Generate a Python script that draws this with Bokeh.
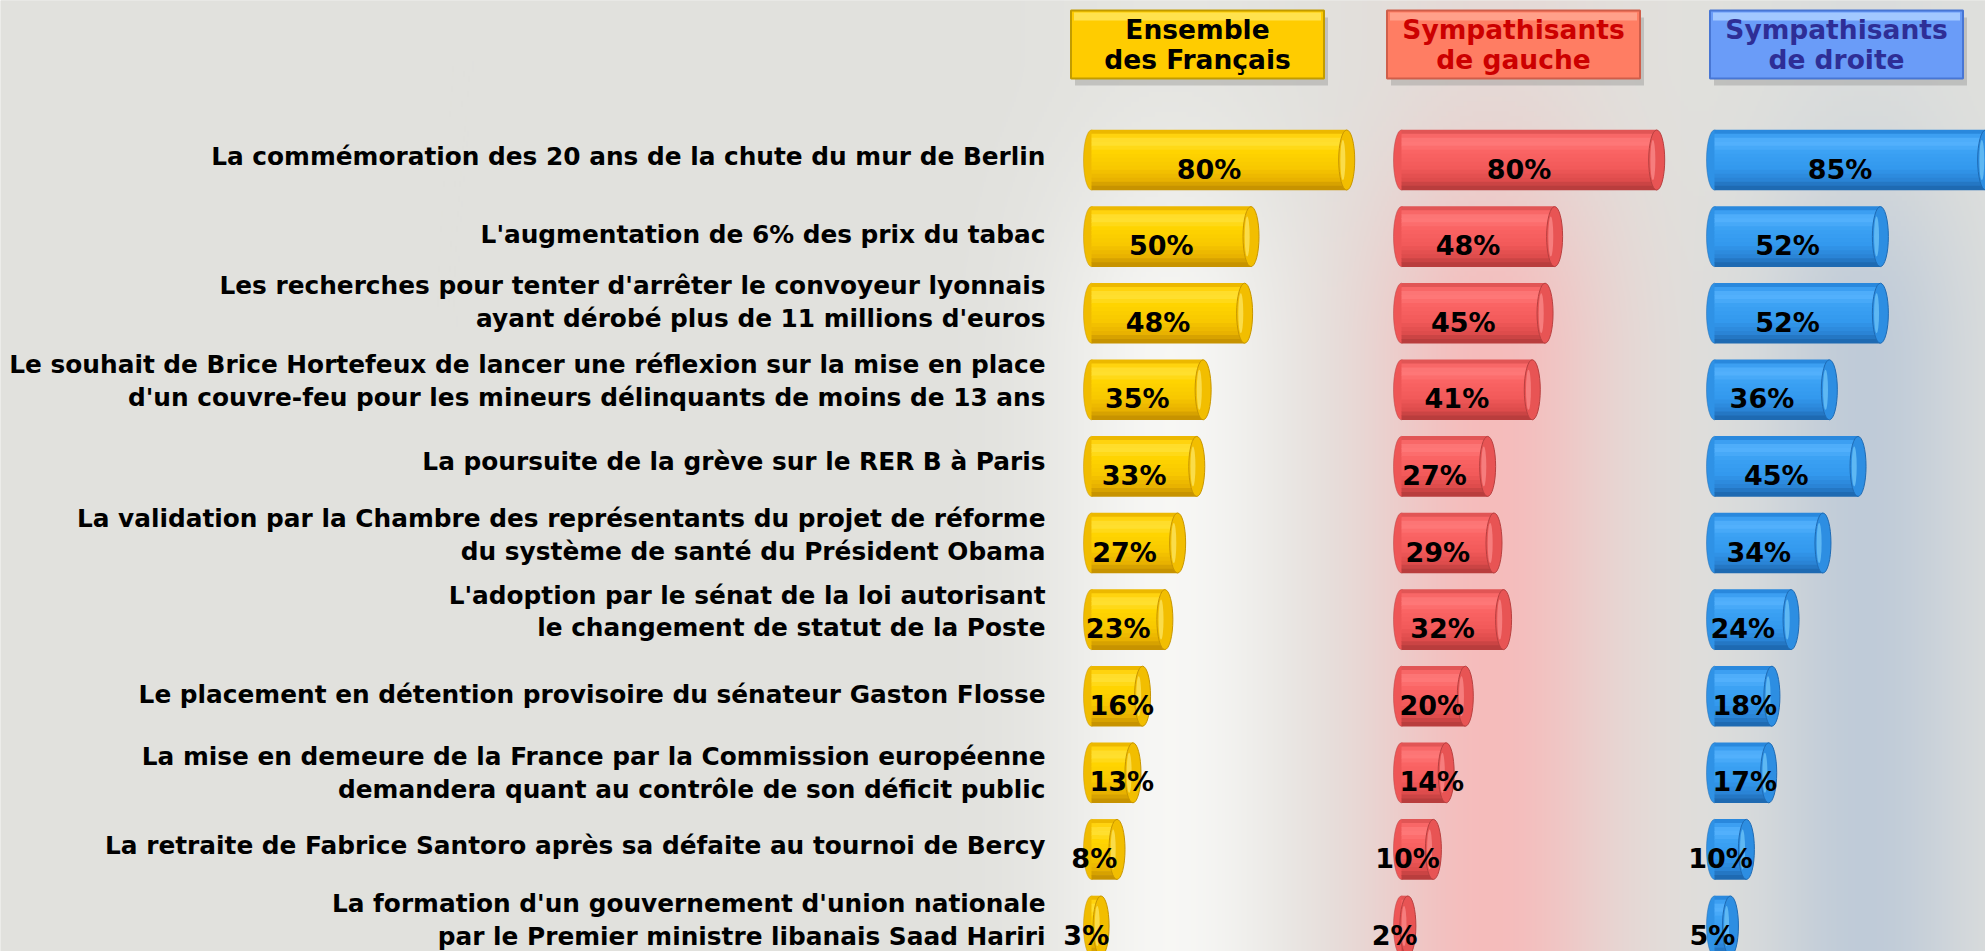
import numpy as np
from bokeh.plotting import figure
from bokeh.models import Range1d
from bokeh.core.properties import value
from bokeh.embed import file_html
from bokeh.resources import INLINE

# ---------------- data ----------------
categories = [
    "La commémoration des 20 ans de la chute du mur de Berlin",
    "L'augmentation de 6% des prix du tabac",
    "Les recherches pour tenter d'arrêter le convoyeur lyonnais\nayant dérobé plus de 11 millions d'euros",
    "Le souhait de Brice Hortefeux de lancer une réflexion sur la mise en place\nd'un couvre-feu pour les mineurs délinquants de moins de 13 ans",
    "La poursuite de la grève sur le RER B à Paris",
    "La validation par la Chambre des représentants du projet de réforme\ndu système de santé du Président Obama",
    "L'adoption par le sénat de la loi autorisant\nle changement de statut de la Poste",
    "Le placement en détention provisoire du sénateur Gaston Flosse",
    "La mise en demeure de la France par la Commission européenne\ndemandera quant au contrôle de son déficit public",
    "La retraite de Fabrice Santoro après sa défaite au tournoi de Bercy",
    "La formation d'un gouvernement d'union nationale\npar le Premier ministre libanais Saad Hariri",
]
ensemble = [80, 50, 48, 35, 33, 27, 23, 16, 13, 8, 3]
gauche = [80, 48, 45, 41, 27, 29, 32, 20, 14, 10, 2]
droite = [85, 52, 52, 36, 45, 34, 24, 18, 17, 10, 5]
series_names = ["Ensemble\ndes Français", "Sympathisants\nde gauche", "Sympathisants\nde droite"]

# ---------------- layout / style ----------------
W, H = 1985, 951
ROW0 = 159.5      # px from top to first row centre
ROWH = 76.6       # px per row
PXPCT = 3.19      # px per percent
BAR_H = 60.0      # bar thickness px
col_zero = [1091, 1401, 1714]          # px where each column's zero lies
hdr_center = [1197, 1513, 1836]        # px centre of header boxes
HDR_Y = 44                             # px centre of header boxes
LABEL_RIGHT = 1045
label_dy = [-4, -2, -11, -9, -5, -8, -8, -2, 0, -4, -6]   # px nudges of the category labels
FONT = "DejaVu Sans"

n = len(categories)
rows = list(range(n))
y_top = -ROW0 / ROWH
y_bot = (H - ROW0) / ROWH

p = figure(width=W, height=H, x_range=Range1d(0, W), y_range=Range1d(y_bot, y_top),
           output_backend="svg", toolbar_location=None, min_border=0,
           x_axis_location=None, y_axis_location=None)
p.grid.visible = False
p.outline_line_color = None
p.background_fill_color = "#e1e1dd"
p.border_fill_color = "#e1e1dd"
p.extra_y_ranges = {"px": Range1d(0, H)}
p.extra_x_ranges = {f"c{k}": Range1d(-col_zero[k] / PXPCT, (W - col_zero[k]) / PXPCT) for k in range(3)}

# ---------------- background glows ----------------
step = 5
nrow = int(np.ceil(H / step))
xs = np.arange(W, dtype=float)
ys = np.arange(nrow, dtype=float) * step + step / 2
base = np.array([225, 225, 221], dtype=float)
glows = [
    (1170, 85, (251, 251, 249), 0.85),
    (1490, 85, (248, 184, 184), 0.9),
    (1865, 75, (188, 201, 216), 0.9),
]
vf = np.clip((ys - 60) / 300.0, 0, 1)
vf = 0.2 + 0.8 * (vf * vf * (3 - 2 * vf))
img_rgb = np.tile(base, (nrow, W, 1))
for cx, sg, colr, st in glows:
    g = st * np.exp(-0.5 * ((xs - cx) / sg) ** 2)
    a = vf[:, None] * g[None, :]
    img_rgb = img_rgb * (1 - a[..., None]) + np.array(colr, dtype=float)[None, None, :] * a[..., None]
img = np.empty((nrow, W), dtype=np.uint32)
view = img.view(dtype=np.uint8).reshape((nrow, W, 4))
view[..., 0:3] = np.clip(img_rgb, 0, 255).astype(np.uint8)
view[..., 3] = 255
p.image_rgba(image=[img[::-1]], x=0, y=0, dw=W, dh=nrow * step, y_range_name="px")


def hx(c):
    c = c.lstrip("#")
    return np.array([int(c[i:i + 2], 16) for i in (0, 2, 4)], dtype=float)


def tohex(a):
    a = np.clip(a, 0, 255).astype(int)
    return "#%02x%02x%02x" % tuple(a)


def bands(keys, nb=15):
    out = []
    pos = np.array([k[0] for k in keys], dtype=float)
    cols = np.array([hx(k[1]) for k in keys])
    bh = BAR_H / nb
    for i in range(nb):
        c = -BAR_H / 2 + (i + 0.5) * bh
        rgb = [np.interp(c, pos, cols[:, j]) for j in range(3)]
        out.append((c / ROWH, (bh + 0.6) / ROWH, tohex(np.array(rgb))))
    return out


styles = [
    dict(keys=[(-30, "#d9a200"), (-26, "#ffcf00"), (-18, "#ffe23a"), (-8, "#ffd400"),
               (8, "#f8c800"), (20, "#e8b200"), (30, "#bf8c00")],
         left="#f0bc00", cap="#f2be00", cap_line="#c89600", hl="#fff07a"),
    dict(keys=[(-30, "#cc4a4a"), (-26, "#f66060"), (-18, "#ff7c7c"), (-8, "#fa6464"),
               (8, "#f25a5a"), (20, "#de4c4c"), (30, "#b03a3a")],
         left="#ee5656", cap="#e85454", cap_line="#b84040", hl="#ff9a9a"),
    dict(keys=[(-30, "#1f78cc"), (-26, "#3399ee"), (-18, "#58b4ff"), (-8, "#3ca2f4"),
               (8, "#3399ee"), (20, "#2a84d6"), (30, "#1c64aa")],
         left="#2f92e6", cap="#2d8ee2", cap_line="#1f6bb4", hl="#7fd4ff"),
]
hdr_styles = [
    dict(fill="#ffcc00", top="#ffe24e", line="#c29c00", text="#000000"),
    dict(fill="#ff7d63", top="#ffa08a", line="#cf5e4a", text="#cc0000"),
    dict(fill="#6a9cf8", top="#a2c8ff", line="#4876d4", text="#2e2e96"),
]

series = [ensemble, gauche, droite]
hdr_y = (HDR_Y - ROW0) / ROWH
val_font = dict(text_font=value(FONT), text_font_style="bold", text_font_size="27px",
                text_color="#000000", text_baseline="middle")

for k in range(3):
    rn = f"c{k}"
    vals = series[k]
    st = styles[k]
    hs = hdr_styles[k]
    hxd = (hdr_center[k] - col_zero[k]) / PXPCT

    # header box
    p.rect(x=[hxd + 4 / PXPCT], y=[hdr_y + 7 / ROWH], width=253, height=68,
           width_units="screen", height_units="screen", fill_color="#9a9a96",
           fill_alpha=0.45, line_color=None, x_range_name=rn)
    p.rect(x=[hxd], y=[hdr_y], width=253, height=68, width_units="screen",
           height_units="screen", fill_color=hs["fill"], line_color=hs["line"],
           line_width=2, x_range_name=rn)
    p.rect(x=[hxd], y=[hdr_y - 28 / ROWH], width=247, height=8, width_units="screen",
           height_units="screen", fill_color=hs["top"], line_color=None, x_range_name=rn)
    p.text(x=[hxd], y=[hdr_y], text=[series_names[k]], text_align="center",
           text_baseline="middle", text_font=value(FONT), text_font_style="bold",
           text_font_size="26.5px", text_line_height=0.98, text_color=hs["text"],
           x_range_name=rn)

    # cylinder bars
    p.ellipse(x=[0] * n, y=rows, width=16, height=BAR_H, width_units="screen",
              height_units="screen", fill_color=st["left"], line_color=st["cap_line"],
              line_alpha=0.5, x_range_name=rn)
    for off, h, c in bands(st["keys"]):
        p.hbar(y=[r + off for r in rows], left=0, right=vals, height=h,
               fill_color=c, line_color=None, x_range_name=rn)
    p.ellipse(x=vals, y=rows, width=16, height=BAR_H, width_units="screen",
              height_units="screen", fill_color=st["cap"], line_color=st["cap_line"],
              line_width=1, x_range_name=rn)
    p.ellipse(x=[v - 1.2 for v in vals], y=rows, width=5, height=40, width_units="screen",
              height_units="screen", fill_color=st["hl"], fill_alpha=0.6,
              line_color=None, x_range_name=rn)

    # value labels: centred on the bar, but left-anchored for short bars (11-22 %)
    short = [i for i, v in enumerate(vals) if 10 < v < 22]
    other = [i for i in rows if i not in short]
    p.text(x=[vals[i] / 2 for i in other], y=[rows[i] for i in other],
           text=[f"{vals[i]}%" for i in other], x_offset=-10, y_offset=9,
           text_align="center", x_range_name=rn, **val_font)
    if short:
        p.text(x=[0] * len(short), y=[rows[i] for i in short],
               text=[f"{vals[i]}%" for i in short], x_offset=-2, y_offset=9,
               text_align="left", x_range_name=rn, **val_font)

# category labels
p.text(x=[LABEL_RIGHT] * n, y=[r + d / ROWH for r, d in zip(rows, label_dy)], text=categories,
       text_align="right", text_baseline="middle", text_font=value(FONT),
       text_font_style="bold", text_font_size="24.8px", text_line_height=1.12,
       text_color="#000000")

open("out.html", "w").write(file_html(p, INLINE))
